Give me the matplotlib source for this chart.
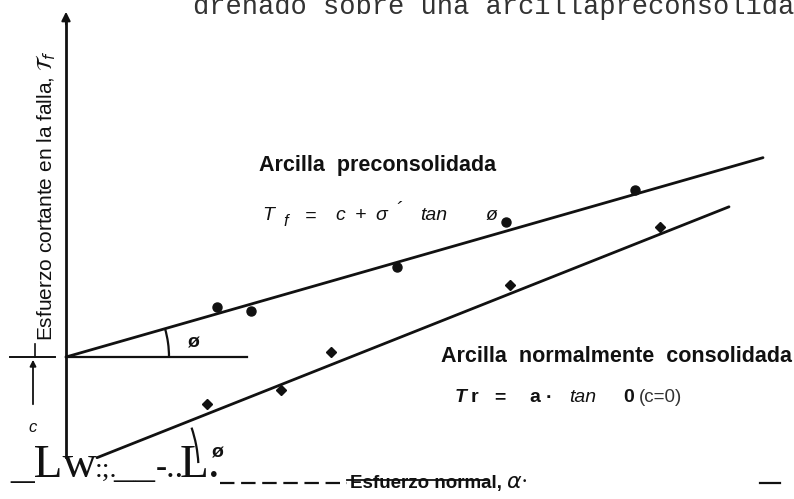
import numpy as np
import matplotlib.pyplot as plt
from matplotlib.patches import Arc

# esfuerzo normal / cortante (unidades del dibujo)
sigma_pre = [15.1, 18.5, 33.1, 44.0, 56.9]
tau_pre = [16.3, 15.9, 20.3, 24.8, 28.0]
sigma_nc = [14.1, 21.5, 26.5, 44.4, 59.4]
tau_nc = [6.6, 8.0, 11.8, 18.5, 24.3]

c_pre = 11.3          # cohesion, arcilla preconsolidada
tan_phi_pre = 0.286
tan_phi_nc = 0.397
sigma_line_pre = [0.0, 69.7]
sigma_line_nc = [3.1, 66.3]

INK = '#111111'
SANS = 'Liberation Sans'
SERIF = 'Liberation Serif'

fig = plt.figure(figsize=(7.94, 4.99), dpi=100)
ax = fig.add_axes([0, 0, 1, 1])
ax.set_xlim(-6.6, 72.8)
ax.set_ylim(-2.9, 47.0)
ax.axis('off')

# eje vertical con flecha
ax.plot([0, 0], [1.3, 45.0], color=INK, lw=2.0)
ax.annotate('', xy=(0, 46.1), xytext=(0, 44.3),
            arrowprops=dict(arrowstyle='-|>', color=INK, lw=1.5, mutation_scale=13))

# envolventes de falla
x = np.array(sigma_line_pre)
ax.plot(x, c_pre + tan_phi_pre * x, color=INK, lw=2.0, solid_capstyle='round')
x = np.array(sigma_line_nc)
ax.plot(x, tan_phi_nc * x, color=INK, lw=2.0, solid_capstyle='round')

ax.plot(sigma_pre, tau_pre, 'o', color=INK, ms=6.5)
ax.plot(sigma_nc, tau_nc, 'D', color=INK, ms=5.5)

# horizontal de referencia y angulos
ax.plot([0, 18.1], [c_pre, c_pre], color=INK, lw=1.6)
phi_pre = np.degrees(np.arctan(tan_phi_pre))
phi_nc = np.degrees(np.arctan(tan_phi_nc))
ax.add_patch(Arc((0, c_pre), 20.6, 20.6, theta1=0, theta2=phi_pre, color=INK, lw=1.6))
ax.add_patch(Arc((0, 0), 26.5, 26.5, theta1=3, theta2=phi_nc - 3, color=INK, lw=1.6))
ax.text(12.8, 12.7, 'ø', fontsize=14, fontweight='bold', family=SANS, color=INK,
        ha='center', va='center')
ax.text(15.2, 1.7, 'ø', fontsize=14, fontweight='bold', family=SANS, color=INK,
        ha='center', va='center')

# cota de la cohesion c
ax.plot([-5.6, -1.1], [c_pre, c_pre], color=INK, lw=1.4)
ax.plot([-3.1, -3.1], [c_pre, c_pre + 1.3], color=INK, lw=1.2)
ax.annotate('', xy=(-3.3, c_pre), xytext=(-3.3, 6.3),
            arrowprops=dict(arrowstyle='-|>', color=INK, lw=1.3, mutation_scale=9))
ax.text(-3.3, 4.3, 'c', fontsize=12, style='italic', family=SANS, color=INK,
        ha='center', va='center')

ax.text(-2.0, 27.4, r'Esfuerzo cortante en la falla, $\mathcal{T}_f$', rotation=90,
        fontsize=15, family=SANS, color=INK, ha='center', va='center')

# rotulos
ax.text(12.7, 45.6, 'drenado sobre una arcillapreconsolida', family='Liberation Mono',
        fontsize=19.5, color='#333333', va='baseline')
ax.text(19.3, 30.5, 'Arcilla  preconsolidada', fontsize=15.5, fontweight='bold',
        family=SANS, color=INK, va='center')
formula_pre = [(19.6, 25.4, 'T', 14), (21.7, 24.9, 'f', 12), (23.9, 25.4, '=', 14),
               (26.9, 25.4, 'c', 14), (28.9, 25.4, '+', 14), (30.9, 25.4, 'σ', 14),
               (32.9, 25.9, '´', 14), (35.4, 25.4, 'tan', 14), (42.0, 25.4, 'ø', 14)]
for sx, ty, s, fs in formula_pre:
    ax.text(sx, ty, s, fontsize=fs, style='italic', family=SANS, color=INK, va='center')

ax.text(37.5, 11.4, 'Arcilla  normalmente  consolidada', fontsize=15.5, fontweight='bold',
        family=SANS, color=INK, va='center')
ax.text(38.9, 7.2, 'T', fontsize=14, style='italic', fontweight='bold', family=SANS,
        color=INK, va='center')
ax.text(40.5, 7.2, 'r', fontsize=14, fontweight='bold', family=SANS, color=INK, va='center')
ax.text(42.8, 7.2, '=', fontsize=14, fontweight='bold', family=SANS, color=INK, va='center')
ax.text(46.3, 7.2, 'a', fontsize=14, fontweight='bold', family=SANS, color=INK, va='center')
ax.text(48.0, 7.2, '·', fontsize=14, fontweight='bold', family=SANS, color=INK, va='center')
ax.text(50.3, 7.2, 'tan', fontsize=14, style='italic', family=SANS, color=INK, va='center')
ax.text(55.7, 7.2, '0', fontsize=14, fontweight='bold', family=SANS, color=INK, va='center')
ax.text(57.3, 7.2, '(c=0)', fontsize=13.5, family=SANS, color='#333333', va='center')

# eje horizontal
ax.plot([15.4, 28.1], [-1.3, -1.3], color=INK, lw=1.6, linestyle=(0, (6.5, 3)))
ax.plot([28.1, 42.1], [-1.0, -1.0], color=INK, lw=1.3)
ax.plot([69.4, 71.4], [-1.3, -1.3], color=INK, lw=1.6)
ax.text(-5.6, -0.7, '_Lw', family=SERIF, fontsize=34, color=INK, va='baseline')
ax.text(2.9, -0.7, ':;.', family=SERIF, fontsize=20, color=INK, va='baseline')
ax.text(4.7, -0.7, '__', family=SERIF, fontsize=30, color=INK, va='baseline')
ax.text(9.0, -0.7, '-..', family=SERIF, fontsize=24, color=INK, va='baseline')
ax.text(11.4, -0.7, 'L.', family=SERIF, fontsize=34, color=INK, va='baseline')
ax.text(28.4, -1.8, 'Esfuerzo normal,', fontsize=13.5, fontweight='bold', family=SANS,
        color=INK, va='baseline')
ax.text(44.0, -1.8, r'$\mathit{\alpha}$·', fontsize=16, family=SERIF, color=INK,
        va='baseline')

fig.savefig('out.png', dpi=100, facecolor='white')
